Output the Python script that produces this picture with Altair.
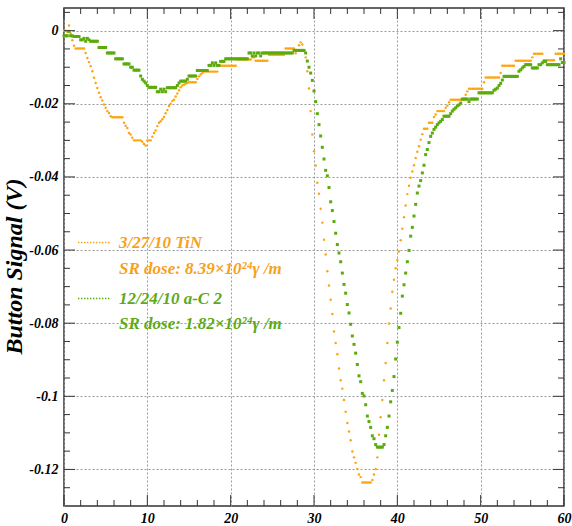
import altair as alt
import pandas as pd

# ---- data (button signal in mV, sampled every 0.2 on the x axis) ----
tin_mv = [
    0, 0, -0.3, 1.4, -0.8, -2.6, -4.1, -4.9, -4.9, -4.9,
    -4.9, -4.9, -4.9, -6.1, -7.5, -8.6, -9.7, -11.1, -12.9, -14.3,
    -15.7, -17.0, -18.2, -19.1, -20.2, -21.1, -22.0, -22.5, -23.4, -23.7,
    -23.7, -23.7, -23.7, -23.7, -23.7, -23.7, -25.2, -26.0, -26.6, -28.0,
    -28.4, -29.3, -30.0, -30.0, -30.0, -30.0, -30.0, -30.4, -31.0, -31.4,
    -30.0, -30.0, -30.0, -29.0, -28.0, -27.3, -26.1, -25.2, -24.8, -24.2,
    -23.6, -22.6, -21.7, -20.6, -20.0, -19.2, -18.9, -18.0, -17.2, -16.3,
    -15.5, -15.0, -14.8, -14.5, -14.3, -14.1, -14.1, -14.1, -14.1, -14.1,
    -13.2, -12.5, -12.0, -11.6, -11.2, -11.2, -11.2, -11.2, -11.2, -11.2,
    -11.2, -11.2, -11.2, -9.6, -9.6, -9.6, -9.6, -9.6, -9.6, -9.6, -9.6,
    -9.6, -9.6, -9.6, -7.9, -7.9, -7.9, -7.9, -7.9, -7.9, -7.9,
    -7.9, -7.9, -7.3, -7.3, -8.2, -8.2, -8.2, -8.2, -8.2, -8.2,
    -8.2, -8.2, -6.6, -6.6, -6.6, -6.6, -6.6, -6.6, -6.6, -6.6,
    -6.6, -6.6, -4.9, -4.9, -4.9, -4.9, -4.9, -4.9, -6.2, -5.5,
    -4.0, -3.2, -3.8, -5.4, -7.3, -11.1, -15.8, -22.0, -28.4, -33.0,
    -36.9, -41.6, -44.6, -48.7, -52.5, -57.2, -61.2, -65.8, -69.7, -73.6,
    -77.5, -82.3, -85.4, -88.5, -92.4, -95.6, -97.9, -101.0, -104.2, -107.3,
    -109.6, -112.0, -115.1, -116.7, -118.2, -119.9, -121.4, -122.1, -123.6, -123.6,
    -123.6, -123.6, -123.6, -123.6, -122.9, -121.4, -119.9, -116.7, -110.5, -105.7,
    -101.0, -95.6, -90.9, -85.4, -80.1, -76.0, -71.4, -68.1, -65.0, -62.7,
    -60.4, -57.3, -54.2, -51.0, -47.8, -44.7, -42.4, -40.2, -38.5, -36.8,
    -34.8, -33.1, -31.6, -29.8, -28.3, -26.8, -26.8, -26.8, -25.2, -25.2,
    -25.2, -23.6, -22.9, -22.0, -22.0, -22.0, -22.0, -22.0, -21.1, -20.5,
    -19.6, -18.9, -18.9, -18.9, -18.9, -18.9, -18.9, -18.9, -18.9, -18.9,
    -17.5, -16.6, -15.9, -15.9, -15.9, -15.9, -15.9, -15.9, -15.9, -15.9,
    -15.9, -14.1, -12.8, -12.8, -12.8, -12.8, -12.8, -12.8, -12.8, -12.8,
    -12.8, -11.6, -9.6, -9.6, -9.6, -9.6, -9.6, -9.6, -9.6, -9.6,
    -8.2, -8.2, -8.2, -8.2, -8.2, -8.2, -8.2, -8.2, -8.2, -8.2,
    -7.3, -6.3, -6.3, -6.3, -6.3, -6.3, -6.3, -8.1, -8.1, -8.1,
    -8.1, -8.1, -8.1, -8.1, -6.3, -6.3, -6.3, -6.3, -6.3, -6.3,
]

ac_mv = [
    -1.4, -1.4, -1.4, -0.2, -1.4, -1.4, -1.6, -1.6, -1.6, -1.6,
    -2.5, -2.5, -2.1, -2.9, -2.1, -2.5, -2.9, -2.9, -2.9, -2.9,
    -2.9, -4.6, -4.6, -4.6, -4.6, -4.6, -6.1, -6.1, -6.1, -6.1,
    -6.1, -7.7, -7.7, -7.7, -7.7, -7.7, -9.1, -9.1, -9.1, -9.1,
    -10.0, -10.0, -10.8, -10.8, -10.8, -10.8, -12.4, -13.3, -13.8, -14.3,
    -15.0, -15.5, -15.5, -15.5, -15.5, -15.5, -16.7, -16.7, -16.0, -16.7,
    -16.0, -16.7, -15.6, -15.6, -15.6, -15.6, -15.6, -15.6, -15.0, -14.3,
    -13.8, -13.8, -13.8, -13.8, -13.3, -12.4, -12.4, -12.4, -12.4, -12.4,
    -10.9, -10.9, -10.9, -10.9, -10.9, -10.9, -10.9, -9.5, -9.5, -8.8,
    -9.5, -8.8, -9.5, -9.5, -8.4, -8.4, -8.4, -7.7, -7.7, -7.7,
    -7.7, -7.7, -7.7, -7.7, -7.7, -7.7, -7.7, -7.7, -7.7, -7.7, -7.7,
    -6.1, -6.1, -6.9, -6.1, -6.9, -6.1, -6.1, -6.9, -6.1, -6.1,
    -6.1, -6.1, -6.1, -6.1, -6.1, -6.1, -6.1, -6.1, -6.1, -6.1,
    -6.1, -6.1, -6.1, -6.1, -6.1, -6.1, -6.1, -5.4, -5.4, -5.4,
    -5.4, -5.4, -5.4, -5.4, -6.1, -8.3, -10.0, -11.6, -13.6, -16.5,
    -19.4, -22.7, -25.7, -28.8, -31.9, -35.1, -38.2, -39.7, -42.9, -46.8,
    -49.2, -52.2, -55.4, -58.5, -60.8, -63.2, -66.3, -69.4, -71.8, -74.9,
    -77.2, -80.3, -83.5, -85.8, -88.2, -91.3, -94.4, -96.0, -99.2, -99.9,
    -102.3, -105.4, -106.9, -108.5, -110.8, -111.6, -113.2, -113.9, -113.9, -113.9,
    -113.9, -113.2, -110.8, -108.5, -105.4, -101.5, -98.4, -94.6, -89.8, -85.2,
    -81.2, -77.3, -72.6, -69.5, -66.3, -63.2, -60.1, -56.2, -53.8, -50.7,
    -47.5, -44.4, -42.5, -41.0, -38.9, -36.8, -33.9, -32.5, -30.6, -28.9,
    -28.0, -27.0, -26.4, -25.7, -25.2, -24.8, -24.3, -23.4, -23.4, -23.4,
    -23.4, -22.7, -22.0, -21.5, -21.1, -20.6, -20.3, -19.8, -18.7, -18.7,
    -18.7, -18.7, -19.4, -18.7, -18.7, -18.7, -18.7, -18.7, -17.0, -17.0,
    -17.0, -17.0, -17.0, -17.0, -17.0, -17.0, -17.0, -16.3, -16.0, -15.7,
    -15.0, -14.4, -13.5, -12.5, -12.5, -12.5, -12.5, -12.5, -12.5, -12.5,
    -12.5, -12.5, -11.1, -10.7, -10.2, -9.8, -9.3, -9.3, -9.3, -9.3,
    -10.2, -10.2, -10.2, -10.2, -9.3, -9.3, -8.8, -8.4, -8.4, -9.3,
    -9.3, -9.3, -9.3, -9.3, -9.3, -9.3, -9.3, -7.7, -8.7, -8.7,
]

x_step = 0.2
x_major = [0, 10, 20, 30, 40, 50, 60]
x_minor = [2, 4, 6, 8, 12, 14, 16, 18, 22, 24, 26, 28, 32, 34, 36, 38,
           42, 44, 46, 48, 52, 54, 56, 58]
y_major = [0, -0.02, -0.04, -0.06, -0.08, -0.1, -0.12]
y_minor = [0.005, -0.005, -0.01, -0.015, -0.025, -0.03, -0.035, -0.045, -0.05,
           -0.055, -0.065, -0.07, -0.075, -0.085, -0.09, -0.095, -0.105,
           -0.11, -0.115, -0.125]

legend_texts = ["3/27/10 TiN", "SR dose: 8.39×10²⁴γ /m",
                "12/24/10 a-C 2", "SR dose: 1.82×10²⁴γ /m"]

ORANGE = "#FFA40F"
GREEN = "#5CAB0C"
ORANGE_TXT = "#F7A11A"
GREEN_TXT = "#5DA91A"
FRAME = "#333333"
FONT = "Liberation Serif"

W, H = 500, 498

tin_df = pd.DataFrame({"x": [round(i * x_step, 1) for i in range(len(tin_mv))],
                       "y": [v / 1000.0 for v in tin_mv]})
ac_df = pd.DataFrame({"x": [round(i * x_step, 1) for i in range(len(ac_mv))],
                      "y": [v / 1000.0 for v in ac_mv]})

xs = alt.Scale(domain=[0, 60], nice=False, zero=False)
ys = alt.Scale(domain=[-0.13, 0.0062], nice=False, zero=False)

x_axis = alt.Axis(values=x_major, grid=True, gridDash=[2, 2], gridColor="#9a9a9a",
                  gridWidth=1, ticks=False, domain=False, labelPadding=5,
                  labelFont=FONT, labelFontStyle="italic", labelFontWeight="bold",
                  labelFontSize=14, labelColor="#000", labelFlush=False,
                  title=None)
y_axis = alt.Axis(values=y_major, grid=True, gridDash=[2, 2], gridColor="#9a9a9a",
                  gridWidth=1, ticks=False, domain=False, labelPadding=6,
                  labelFont=FONT, labelFontStyle="italic", labelFontWeight="bold",
                  labelFontSize=14, labelColor="#000", labelFlush=False,
                  labelExpr="datum.value == 0 ? '0' : '-' + format(abs(datum.value), '~g')",
                  title="Button Signal (V)", titleFont=FONT, titleFontStyle="italic",
                  titleFontWeight="bold", titleFontSize=24, titleColor="#000",
                  titleX=-43, titleY=258, titleBaseline="alphabetic")


def X(field):
    return alt.X(field, scale=xs, axis=x_axis)


def Y(field):
    return alt.Y(field, scale=ys, axis=y_axis)


tin = alt.Chart(tin_df).mark_circle(size=6, color=ORANGE, opacity=1).encode(
    x=X("x:Q"), y=Y("y:Q"))
ac = alt.Chart(ac_df).mark_square(size=9, color=GREEN, opacity=1).encode(
    x=X("x:Q"), y=Y("y:Q"))


def xticks(vals, length):
    d = pd.DataFrame({"v": vals})
    bottom = alt.Chart(d).mark_rule(color=FRAME, strokeWidth=1).encode(
        x=X("v:Q"), y=alt.value(H), y2=alt.value(H - length))
    top = alt.Chart(d).mark_rule(color=FRAME, strokeWidth=1).encode(
        x=X("v:Q"), y=alt.value(0), y2=alt.value(length))
    return [bottom, top]


def yticks(vals, length):
    d = pd.DataFrame({"v": vals})
    left = alt.Chart(d).mark_rule(color=FRAME, strokeWidth=1).encode(
        y=Y("v:Q"), x=alt.value(0), x2=alt.value(length))
    right = alt.Chart(d).mark_rule(color=FRAME, strokeWidth=1).encode(
        y=Y("v:Q"), x=alt.value(W), x2=alt.value(W - length))
    return [left, right]


tick_layers = (xticks(x_major, 11) + xticks(x_minor, 6)
               + yticks(y_major, 11) + yticks(y_minor, 6))

dummy = alt.Data(values=[{"a": 1}])
legend_layers = []
legend_colors = [ORANGE_TXT, ORANGE_TXT, GREEN_TXT, GREEN_TXT]
legend_y = [239.5, 265.5, 295.5, 320.5]
for txt, col, yy in zip(legend_texts, legend_colors, legend_y):
    legend_layers.append(
        alt.Chart(dummy).mark_text(align="left", baseline="alphabetic", font=FONT,
                                   fontStyle="italic", fontWeight="bold",
                                   fontSize=17, color=col).encode(
            x=alt.value(55), y=alt.value(yy), text=alt.value(txt)))

for col, yy in [(ORANGE, 234.5), (GREEN, 290.5)]:
    legend_layers.append(
        alt.Chart(dummy).mark_rule(color=col, strokeWidth=1.6,
                                   strokeDash=[1.4, 1.6]).encode(
            x=alt.value(14), x2=alt.value(46), y=alt.value(yy)))

chart = alt.layer(tin, ac, *tick_layers, *legend_layers).properties(
    width=W, height=H,
    autosize=alt.AutoSizeParams(type="none"),
    padding={"left": 64, "top": 8, "right": 8, "bottom": 20},
    background="white",
).configure_view(stroke=FRAME, strokeWidth=1.5)

chart.save("out.html", embed_options={"renderer": "svg", "actions": False})
